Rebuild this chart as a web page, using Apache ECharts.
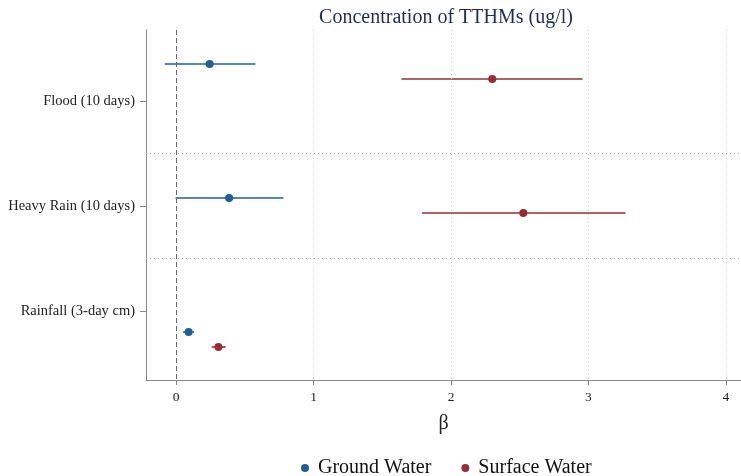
<!DOCTYPE html>
<html>
<head>
<meta charset="utf-8">
<script src="https://cdn.jsdelivr.net/npm/echarts@6/dist/echarts.min.js"></script>
<style>
  html, body { margin: 0; padding: 0; background: #fff; }
  #chart { width: 741px; height: 476px; }
</style>
</head>
<body>
<div id="chart"></div>
<script>
// categories (top to bottom)
const categories = ['Flood (10 days)', 'Heavy Rain (10 days)', 'Rainfall (3-day cm)'];
const xTicks = [0, 1, 2, 3, 4];

// estimates: point, lower CI, upper CI
const groundPoint = [0.243, 0.385, 0.09];
const groundLow = [-0.084, -0.005, 0.05];
const groundHigh = [0.576, 0.78, 0.13];

const surfacePoint = [2.30, 2.526, 0.307];
const surfaceLow = [1.639, 1.787, 0.258];
const surfaceHigh = [2.957, 3.27, 0.36];

const BLUE = '#1f5f96';
const RED = '#9a2b34';
const FONT = '"Liberation Serif", "DejaVu Serif", serif';
const OFFSET = 0.056; // vertical shift of each series inside its row

const makeRows = (pt, lo, hi, shift) =>
  pt.map((v, i) => [v, lo[i], hi[i], i + 1 + shift]);

const groundRows = makeRows(groundPoint, groundLow, groundHigh, -OFFSET);
const surfaceRows = makeRows(surfacePoint, surfaceLow, surfaceHigh, OFFSET);

// draws the CI segment between lower and upper bounds
const ciSeries = (name, rows, color) => ({
  name: name + ' CI',
  type: 'custom',
  yAxisIndex: 1,
  z: 3,
  data: rows,
  encode: { x: [1, 2], y: 3 },
  renderItem: (params, api) => {
    const a = api.coord([api.value(1), api.value(3)]);
    const b = api.coord([api.value(2), api.value(3)]);
    return {
      type: 'line',
      shape: { x1: a[0], y1: a[1], x2: b[0], y2: b[1] },
      style: { stroke: color, lineWidth: 1.6 }
    };
  },
  silent: true
});

const pointSeries = (name, rows, color) => ({
  name: name,
  type: 'scatter',
  yAxisIndex: 1,
  z: 4,
  symbol: 'circle',
  symbolSize: 8,
  itemStyle: { color: color, opacity: 1 },
  data: rows.map(r => [r[0], r[3]])
});

const chart = echarts.init(document.getElementById('chart'));
chart.setOption({
  animation: false,
  title: {
    text: 'Concentration of TTHMs (ug/l)',
    left: 441,
    textAlign: 'center',
    top: 3,
    textStyle: { fontFamily: FONT, fontSize: 20, fontWeight: 'normal', color: '#1e2d55' }
  },
  legend: {
    bottom: -7,
    left: 296,
    itemWidth: 8,
    itemHeight: 8,
    itemGap: 30,
    data: [
      { name: 'Ground Water', icon: 'circle' },
      { name: 'Surface Water', icon: 'circle' }
    ],
    textStyle: { fontFamily: FONT, fontSize: 20, color: '#111', padding: [0, 0, 0, 4] }
  },
  grid: { left: 146, right: 0, top: 30, bottom: 96 },
  xAxis: {
    type: 'value',
    min: -0.22,
    max: 4.11,
    name: 'β',
    nameLocation: 'middle',
    nameGap: 34,
    nameTextStyle: { fontFamily: FONT, fontSize: 20, color: '#222' },
    axisLine: { onZero: false, lineStyle: { color: '#888' } },
    axisTick: { show: true, length: 5, customValues: xTicks, lineStyle: { color: '#888' } },
    axisLabel: { customValues: xTicks, fontFamily: FONT, fontSize: 13.5, color: '#222', margin: 10 },
    splitLine: { show: false }
  },
  yAxis: [
    {
      type: 'value',
      inverse: true,
      min: 0.324,
      max: 3.657,
      axisLine: { show: true, onZero: false, lineStyle: { color: '#888' } },
      axisTick: { show: true, length: 6, customValues: [1, 2, 3], lineStyle: { color: '#888' } },
      axisLabel: {
        customValues: [1, 2, 3],
        formatter: v => categories[Math.round(v) - 1],
        fontFamily: FONT, fontSize: 14.5, color: '#222', margin: 11
      },
      splitLine: { show: false }
    },
    {
      type: 'value',
      inverse: true,
      min: 0.69,
      max: 3.302,
      show: false,
      splitLine: { show: false }
    }
  ],
  series: [
    {
      name: 'guides',
      type: 'line',
      yAxisIndex: 0,
      data: [],
      z: 1,
      markLine: {
        silent: true,
        symbol: 'none',
        label: { show: false },
        data: [
          { yAxis: 1.5, lineStyle: { color: '#aaa', type: [1, 3], width: 1 } },
          { yAxis: 2.5, lineStyle: { color: '#aaa', type: [1, 3], width: 1 } },
          { xAxis: 1, lineStyle: { color: '#ccc', type: [1, 3], width: 1 } },
          { xAxis: 2, lineStyle: { color: '#ccc', type: [1, 3], width: 1 } },
          { xAxis: 3, lineStyle: { color: '#ccc', type: [1, 3], width: 1 } },
          { xAxis: 4, lineStyle: { color: '#ccc', type: [1, 3], width: 1 } },
          { xAxis: 0, lineStyle: { color: '#666', type: [5, 3], width: 1 } }
        ]
      }
    },
    ciSeries('Ground Water', groundRows, BLUE),
    ciSeries('Surface Water', surfaceRows, RED),
    pointSeries('Ground Water', groundRows, BLUE),
    pointSeries('Surface Water', surfaceRows, RED)
  ]
});
</script>
</body>
</html>
